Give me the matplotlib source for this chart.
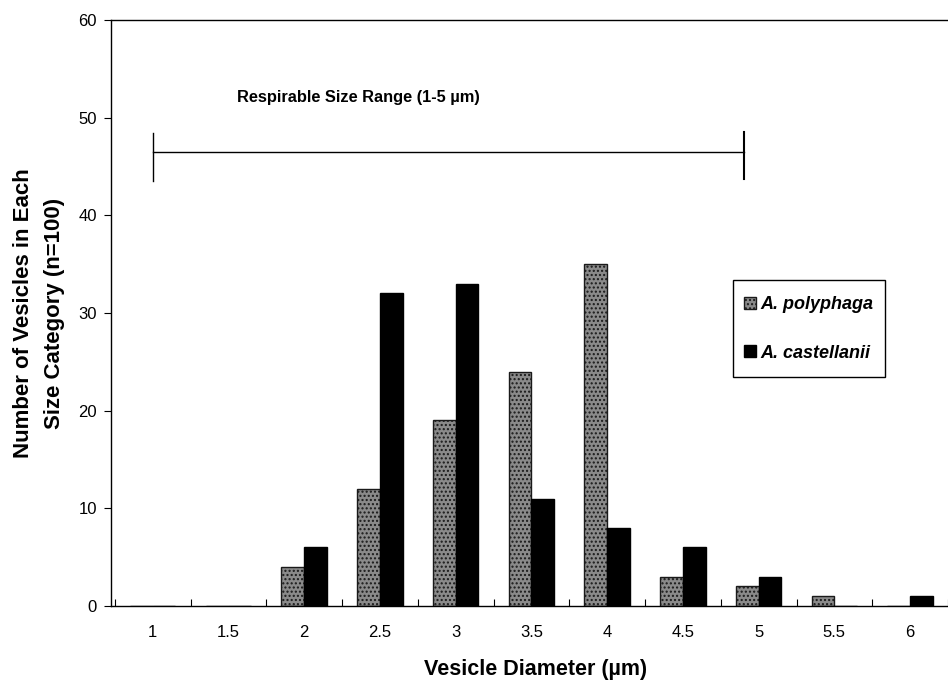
import matplotlib
matplotlib.use("Agg")
import matplotlib.pyplot as plt
import numpy as np
from matplotlib.patches import Patch, Rectangle

plt.rcParams['font.family'] = ['Liberation Sans', 'DejaVu Sans']

categories = ["1", "1.5", "2", "2.5", "3", "3.5", "4", "4.5", "5", "5.5", "6"]
polyphaga = [0, 0, 4, 12, 19, 24, 35, 3, 2, 1, 0]
castellanii = [0, 0, 6, 32, 33, 11, 8, 6, 3, 0, 1]

W, H = 948, 680
fig = plt.figure(figsize=(W/100, H/100), dpi=100)
ax = fig.add_axes([111/W, 1-606/H, 1-111/W, (606-20)/H])

x = np.arange(len(categories))
w = 0.3
ax.bar(x, polyphaga, width=-w, align='edge', facecolor='#8a8a8a',
       edgecolor='#1a1a1a', hatch='....', linewidth=1.0, label='A. polyphaga')
ax.bar(x, castellanii, width=w, align='edge', facecolor='black',
       edgecolor='black', linewidth=1.0, label='A. castellanii')

ax.set_xlim(-0.55, 10.36)
ax.set_ylim(0, 60)
ax.set_yticks(range(0, 61, 10))
ax.set_xticks(x)
ax.set_xticklabels(categories)
ax.set_xticks(np.arange(-0.5, 10.6, 1), minor=True)
ax.tick_params(axis='x', which='major', length=0, pad=14, labelsize=12)
ax.tick_params(axis='x', which='minor', direction='in', length=5, width=0.8)
ax.tick_params(axis='y', which='major', direction='out', length=5, pad=5,
               labelsize=12, width=0.8)
for s in ['left', 'bottom', 'top']:
    ax.spines[s].set_linewidth(1.0)
ax.spines['right'].set_visible(False)

ax.set_xlabel('Vesicle Diameter (\u00b5m)', fontsize=15.5, fontweight='bold',
              labelpad=13.5, x=(536-111)/837)
ax.set_ylabel('Number of Vesicles in Each\nSize Category (n=100)', fontsize=16,
              fontweight='bold', labelpad=10, linespacing=1.6)

# respirable size range bracket
ax.plot([0.01, 7.81], [46.5, 46.5], color='black', lw=1.0)
ax.plot([0.01, 0.01], [43.5, 48.4], color='black', lw=1.0)
ax.plot([7.81, 7.81], [43.7, 48.5], color='black', lw=1.5)
ax.text(2.72, 52.1, 'Respirable Size Range (1-5 \u00b5m)', ha='center', va='center',
        fontsize=11.8, fontweight='bold')

# legend box
fig.patches.append(Rectangle((733/W, 1-377/H), (885-733)/W, (377-280)/H,
                             transform=fig.transFigure, facecolor='white',
                             edgecolor='black', linewidth=1.0, zorder=2))
handles = [Patch(facecolor='#8a8a8a', edgecolor='#1a1a1a', hatch='....'),
           Patch(facecolor='black', edgecolor='black')]
leg = fig.legend(handles, ['A. polyphaga', 'A. castellanii'],
                 loc='center left', bbox_to_anchor=(744/W, 1-329/H),
                 frameon=False,
                 prop={'style': 'italic', 'weight': 'bold', 'size': 13},
                 handlelength=0.66, handleheight=0.66, handletextpad=0.25,
                 labelspacing=1.72, borderpad=0, borderaxespad=0)
leg.set_zorder(3)

fig.savefig('out.png', dpi=100)
